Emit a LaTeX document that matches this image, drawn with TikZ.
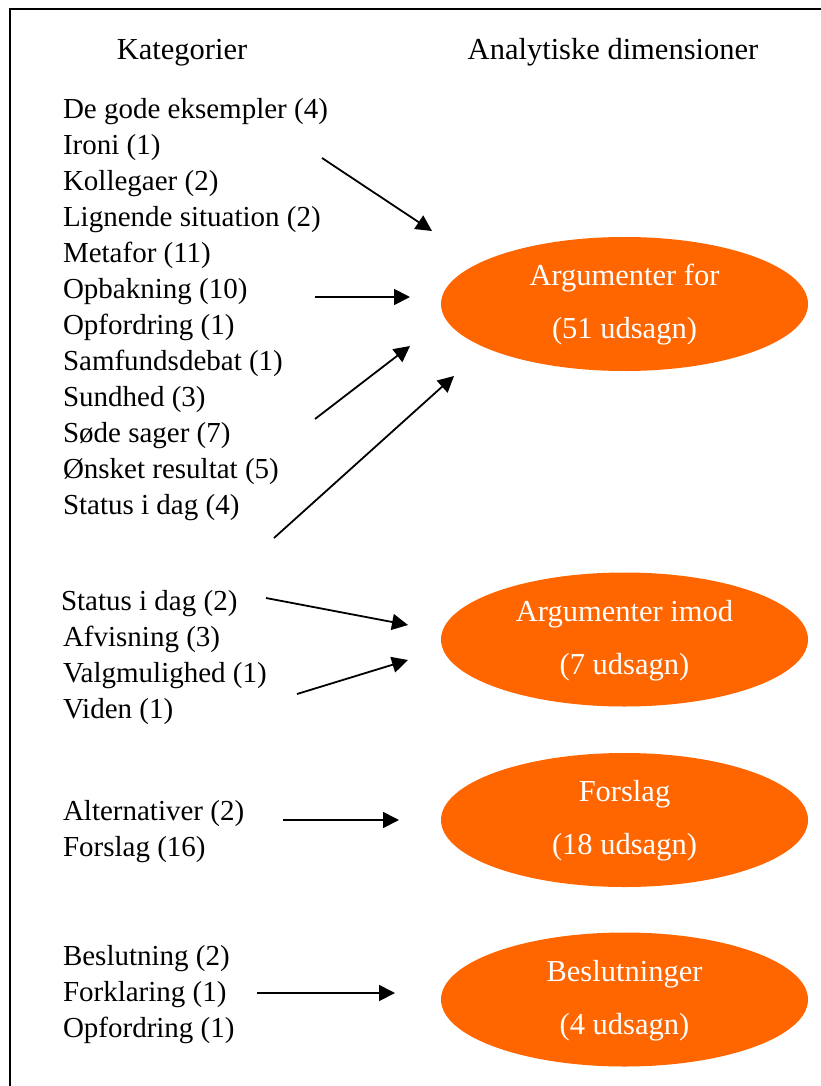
\documentclass[tikz,border=0pt]{standalone}
\usepackage{fontspec}
\setmainfont{Liberation Serif}
\usetikzlibrary{shapes.geometric,arrows.meta}
\definecolor{dimorange}{HTML}{FF6600}
\begin{document}
\begin{tikzpicture}[x=1pt,y=-1pt,
  every node/.style={inner sep=0pt,outer sep=0pt,font=\fontsize{29}{34}\selectfont},
  cat/.style={anchor=base west},
  head/.style={anchor=base,font=\fontsize{30.5}{36}\selectfont},
  dim/.style={ellipse,fill=dimorange,minimum width=367pt,minimum height=134pt},
  dimtext/.style={anchor=base,text=white,font=\fontsize{30.5}{36}\selectfont},
  conn/.style={line width=1.8pt,-{Triangle[length=16pt,width=16pt]}}]
\useasboundingbox (0,0) rectangle (821,1086);
\draw[line width=2pt] (10,1086) -- (10,9) -- (821,9);
% headers
\node[head] (h1) at (182,60) {Kategorier};
\node[head] (h2) at (613,60) {Analytiske dimensioner};
% group 1
\node[cat] (c1) at (63,118.5) {De gode eksempler (4)};
\node[cat] (c2) at (63,154.5) {Ironi (1)};
\node[cat] (c3) at (63,190.5) {Kollegaer (2)};
\node[cat] (c4) at (63,226.5) {Lignende situation (2)};
\node[cat] (c5) at (63,262.5) {Metafor (11)};
\node[cat] (c6) at (63,298.5) {Opbakning (10)};
\node[cat] (c7) at (63,334.5) {Opfordring (1)};
\node[cat] (c8) at (63,370.5) {Samfundsdebat (1)};
\node[cat] (c9) at (63,406.5) {Sundhed (3)};
\node[cat] (c10) at (63,442.5) {Søde sager (7)};
\node[cat] (c11) at (63,478.5) {Ønsket resultat (5)};
\node[cat] (c12) at (63,514.5) {Status i dag (4)};
% group 2
\node[cat] (d1) at (61,610) {Status i dag (2)};
\node[cat] (d2) at (63,646) {Afvisning (3)};
\node[cat] (d3) at (63,682) {Valgmulighed (1)};
\node[cat] (d4) at (63,718) {Viden (1)};
% group 3
\node[cat] (e1) at (63,820) {Alternativer (2)};
\node[cat] (e2) at (63,856) {Forslag (16)};
% group 4
\node[cat] (f1) at (63,965) {Beslutning (2)};
\node[cat] (f2) at (63,1001) {Forklaring (1)};
\node[cat] (f3) at (63,1037) {Opfordring (1)};
% dimensions
\node[dim] (af) at (624.5,304) {};
\node[dimtext] (af1) at (624.5,285.5) {Argumenter for};
\node[dimtext] (af2) at (624.5,338.5) {(51 udsagn)};
\node[dim] (ai) at (624.5,639.5) {};
\node[dimtext] (ai1) at (624.5,621) {Argumenter imod};
\node[dimtext] (ai2) at (624.5,674) {(7 udsagn)};
\node[dim] (fo) at (624.5,820) {};
\node[dimtext] (fo1) at (624.5,801.5) {Forslag};
\node[dimtext] (fo2) at (624.5,854.5) {(18 udsagn)};
\node[dim] (be) at (624.5,999.5) {};
\node[dimtext] (be1) at (624.5,981) {Beslutninger};
\node[dimtext] (be2) at (624.5,1034) {(4 udsagn)};
% connector end points
\coordinate (s1) at (322,158); \coordinate (t1) at (432,231);
\coordinate (s2) at (315,297); \coordinate (t2) at (410,297);
\coordinate (s3) at (315,419); \coordinate (t3) at (410,346);
\coordinate (s4) at (274,538); \coordinate (t4) at (454,376);
\coordinate (s5) at (266,598); \coordinate (t5) at (408,625);
\coordinate (s6) at (297,694); \coordinate (t6) at (408,660);
\coordinate (s7) at (283,820); \coordinate (t7) at (399,820);
\coordinate (s8) at (257,993); \coordinate (t8) at (395,993);
\foreach \i in {1,...,8} \draw[conn] (s\i) -- (t\i);
\end{tikzpicture}
\end{document}
